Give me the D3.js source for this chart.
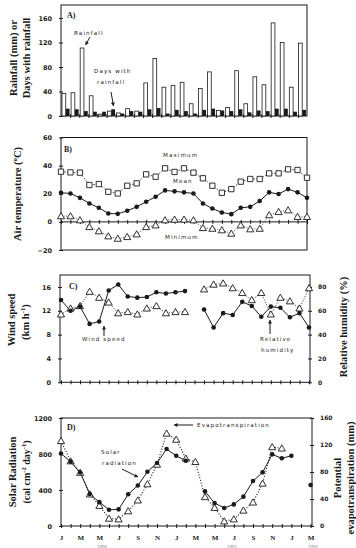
<!DOCTYPE html>
<html><head><meta charset="utf-8">
<script src="https://cdn.jsdelivr.net/npm/d3@7"></script>
<style>
html,body{margin:0;padding:0;background:#fff;}
svg{display:block;}
</style></head>
<body>
<svg id="c" width="356" height="548"></svg>
<script>
// ---------------- DATA ----------------
const months = ["J","F","M","A","M","J","J","A","S","O","N","D",
                "J","F","M","A","M","J","J","A","S","O","N","D",
                "J","F","M"];
const monthTickLabels = ["J","M","M","J","S","N","J","M","M","J","S","N","J","M"];
const yearLabels = ["1990","1991","1992"];

const rainfall = [37,38,111,33,3,8,5,12,8,54,94,47,50,55,20,45,72,9,14,74,20,64,51,152,120,47,119];
const rainDays = [12,11,8,7,7,11,4,8,7,11,13,4,10,8,4,10,12,9,8,11,6,9,8,12,12,7,10];

const tempMax  = [35.7,35.2,35.0,26.2,26.9,21.4,20.2,25.7,27.4,33.8,32.1,38.1,35.5,38.1,35.0,31.0,25.7,20.7,23.3,28.6,30.5,30.5,34.5,34.5,37.4,36.9,31.4];
const tempMean = [20.7,20.2,17.1,13.1,10.0,6.0,5.7,7.9,10.7,14.3,17.9,22.4,21.7,21.0,20.2,13.1,9.5,6.7,5.5,10.0,10.7,14.8,21.0,19.8,23.3,21.0,17.1];
const tempMin  = [4.1,4.1,1.2,-3.6,-6.6,-10.2,-11.9,-10.7,-8.8,-3.6,-2.4,1.2,1.7,1.7,1.2,-4.3,-4.8,-5.9,-8.3,-2.4,-5.2,-4.8,4.8,7.1,8.3,3.6,3.6];

const windSpeed = [13.8,12.0,12.7,9.8,10.2,15.4,16.4,14.4,14.2,14.3,15.1,14.9,15.1,15.3,null,12.2,9.2,11.6,11.3,13.5,12.8,11.0,12.7,12.5,10.9,11.6,9.2];
const relHumidity = [57,62,64,76,71,67,58,59,57,62,64,58,59,59,null,78,82,83,79,75,69,75,57,71,68,62,79];

const solarRad = [805,715,595,355,265,180,185,352,450,602,700,855,780,725,null,385,255,200,240,326,500,596,796,752,781,null,455];
const evapo = [126,96,79,47,30,11,10,22,38,62,91,137,128,100,95,43,27,7,10,23,35,63,117,115,null,null,null];

const rainTicks = [0,40,80,120,160];
const tempTicks = [-20,0,20,40,60];
const windTicks = [0,4,8,12,16];
const rhTicks = [0,20,40,60,80];
const solarTicks = [0,400,800,1200];
const etTicks = [0,40,80,120,160];

// ---------------- HELPERS ----------------
const svg = d3.select("#c");
const INK = "#1a1a1a";
const idx = d3.range(months.length);
const serif = "'Liberation Serif','Times New Roman',serif";
const sans = "'DejaVu Sans',Arial,sans-serif";

function frame(x0,x1,y0,y1){
  svg.append("rect").attr("x",x0).attr("y",y0).attr("width",x1-x0).attr("height",y1-y0)
    .attr("fill","none").attr("stroke",INK).attr("stroke-width",1);
}
function leftAxis(scale,x,ticks,fmt){
  const g = svg.append("g").attr("transform",`translate(${x},0)`)
    .call(d3.axisLeft(scale).tickValues(ticks).tickSize(3).tickPadding(6).tickFormat(fmt||d3.format("d")));
  g.select(".domain").remove();
  g.selectAll(".tick line").attr("x1",-2).attr("x2",2).attr("stroke",INK);
  g.selectAll("text").attr("font-family",sans).attr("font-size",6.5).attr("fill",INK).attr("font-weight","bold");
  return g;
}
function rightAxis(scale,x,ticks){
  const g = svg.append("g").attr("transform",`translate(${x},0)`)
    .call(d3.axisRight(scale).tickValues(ticks).tickSize(3).tickPadding(5).tickFormat(d3.format("d")));
  g.select(".domain").remove();
  g.selectAll(".tick line").attr("x1",-2).attr("x2",2).attr("stroke",INK);
  g.selectAll("text").attr("font-family",sans).attr("font-size",6).attr("fill",INK).attr("font-weight","bold");
  return g;
}
function monthTicks(xs,y,pos){
  const g = svg.append("g").attr("transform",`translate(0,${y})`)
    .call(d3.axisBottom(xs).tickValues(pos).tickSize(2).tickFormat(""));
  g.select(".domain").remove();
  g.selectAll(".tick line").attr("y1",-2).attr("y2",2).attr("stroke",INK);
  return g;
}
function spaced(x,y,txt,anchor){
  svg.append("text").attr("x",x).attr("y",y).attr("font-family",sans).attr("font-size",5.6)
    .attr("letter-spacing",1.1).attr("fill",INK).attr("text-anchor",anchor||"start").text(txt);
}
function label(x,y,txt){
  svg.append("text").attr("x",x).attr("y",y).attr("font-family",serif).attr("font-weight","bold")
    .attr("font-size",8).attr("fill",INK).text(txt);
}
function arrow(x1,y1,x2,y2){
  svg.append("line").attr("x1",x1).attr("y1",y1).attr("x2",x2).attr("y2",y2)
    .attr("stroke",INK).attr("stroke-width",1);
  const a = Math.atan2(y2-y1,x2-x1), L=3.5, W=2;
  const bx = x2 - L*Math.cos(a), by = y2 - L*Math.sin(a);
  const p = [[x2,y2],[bx + W*Math.sin(a), by - W*Math.cos(a)],[bx - W*Math.sin(a), by + W*Math.cos(a)]];
  svg.append("path").attr("d","M"+p.join("L")+"Z").attr("fill",INK);
}
function vtitle(x,yc,parts,size){
  const t = svg.append("text").attr("transform",`translate(${x},${yc}) rotate(-90)`)
    .attr("text-anchor","middle").attr("font-family",serif).attr("font-weight","bold")
    .attr("font-size",size||10.5).attr("fill",INK);
  parts.forEach(p=>{
    const ts = t.append("tspan").text(p.t);
    if(p.sup){ ts.attr("font-size",(size||10.5)*0.65).attr("dy",-4); }
    if(p.down){ ts.attr("dy",4); }
  });
}
const sq = d3.symbol().type(d3.symbolSquare).size(28);
const tri = d3.symbol().type(d3.symbolTriangle).size(22);
function pts(data,xs,ys,kind){
  const g = svg.append("g");
  const d = idx.filter(i=>data[i]!=null);
  if(kind==="circle"){
    g.selectAll("circle").data(d).join("circle").attr("cx",i=>xs(i)).attr("cy",i=>ys(data[i]))
      .attr("r",2.3).attr("fill",INK);
  } else {
    g.selectAll("path").data(d).join("path")
      .attr("transform",i=>`translate(${xs(i)},${ys(data[i])+(kind==="tri"?0.6:0)})`)
      .attr("d",kind==="tri"?tri():sq()).attr("fill","#fff").attr("stroke",INK).attr("stroke-width",0.9);
  }
}
function line(data,xs,ys,dash,w){
  const l = d3.line().defined(i=>data[i]!=null).x(i=>xs(i)).y(i=>ys(data[i]));
  svg.append("path").attr("d",l(idx)).attr("fill","none").attr("stroke",INK)
    .attr("stroke-width",w||1).attr("stroke-dasharray",dash||null);
}
const tickIdx = idx.filter(i=>i%2===0);

// ---------------- PANEL A ----------------
{
  const x0=61,x1=307,yTop=5,yBot=116;
  const y = d3.scaleLinear().domain([0,180]).range([yBot,yTop+0.75]);
  const xb = d3.scaleBand().domain(idx).range([x0,x1]).paddingInner(0.15).paddingOuter(0.1);
  const sub = d3.scaleBand().domain(["rain","days"]).range([0,xb.bandwidth()]).padding(0.02);
  frame(x0,x1,yTop,yBot);
  leftAxis(y,x0,rainTicks);
  monthTicks(d3.scaleLinear().domain([0,27]).range([x0,x1]),yBot,d3.range(1,27));
  svg.append("g").selectAll("rect").data(idx).join("rect")
    .attr("x",i=>xb(i)+sub("rain")).attr("width",sub.bandwidth())
    .attr("y",i=>y(rainfall[i])).attr("height",i=>yBot-y(rainfall[i]))
    .attr("fill","#fff").attr("stroke",INK).attr("stroke-width",0.8);
  svg.append("g").selectAll("rect").data(idx).join("rect")
    .attr("x",i=>xb(i)+sub("days")).attr("width",sub.bandwidth())
    .attr("y",i=>y(rainDays[i])).attr("height",i=>yBot-y(rainDays[i]))
    .attr("fill",INK);
  label(67,18,"A)");
  spaced(74,35,"Rainfall");
  arrow(90,37,85.5,45);
  spaced(94,73,"Days with");
  spaced(97,84,"rainfall");
  arrow(111,92,113.5,106);
  vtitle(17,58,[{t:"Rainfall (mm) or"}],10.5);
  vtitle(30,58,[{t:"Days with rainfall"}],10.5);
}

// ---------------- PANEL B ----------------
{
  const x0=61,x1=307,yTop=137.5,yBot=250;
  const y = d3.scaleLinear().domain([-20,60]).range([yBot,yTop]);
  const xs = d3.scalePoint().domain(idx).range([x0,x1]);
  frame(x0,x1,yTop,yBot);
  leftAxis(y,x0,tempTicks);
  svg.append("line").attr("x1",x0).attr("x2",x1).attr("y1",y(0)).attr("y2",y(0)).attr("stroke",INK).attr("stroke-width",1);
  monthTicks(xs,y(0),idx);
  line(tempMax,xs,y,"1.6,1.6",0.8);
  line(tempMean,xs,y,null,1);
  line(tempMin,xs,y,"1,1.6",0.8);
  pts(tempMax,xs,y,"sq");
  pts(tempMean,xs,y,"circle");
  pts(tempMin,xs,y,"tri");
  label(64,152,"B)");
  spaced(163,157,"Maximum");
  spaced(173,183,"Mean");
  spaced(165,239,"Minimum");
  vtitle(21,194,[{t:"Air temperature ("},{t:"o",sup:true},{t:"C)",down:true}],10.5);
}

// ---------------- PANEL C ----------------
{
  const x0=60,x1=310,yTop=275,yBot=382.3;
  const y = d3.scaleLinear().domain([0,18]).range([yBot,yTop]);
  const yr = d3.scaleLinear().domain([0,90]).range([yBot,yTop]);
  const xs = d3.scalePoint().domain(idx).range([61,309]);
  frame(x0,x1,yTop,yBot);
  leftAxis(y,x0,windTicks);
  rightAxis(yr,x1,rhTicks);
  monthTicks(xs,yBot,idx);
  line(relHumidity,xs,yr,"1,1.6",0.9);
  line(windSpeed,xs,y,null,1);
  pts(relHumidity,xs,yr,"tri");
  pts(windSpeed,xs,y,"circle");
  label(69,289,"C)");
  spaced(82,341,"Wind speed");
  arrow(104,336,104,326);
  spaced(260,341,"Relative");
  spaced(261,352,"humidity");
  arrow(270,334,270,320);
  vtitle(15,320,[{t:"Wind speed"}],10.5);
  vtitle(29,322,[{t:"(km h"},{t:"-1",sup:true},{t:")",down:true}],10.5);
  vtitle(347,327,[{t:"Relative humidity (%)"}],10.5);
}

// ---------------- PANEL D ----------------
{
  const x0=61,x1=312,yTop=418,yBot=526;
  const y = d3.scaleLinear().domain([0,1200]).range([yBot,yTop]);
  const yr = d3.scaleLinear().domain([0,160]).range([yBot,yTop]);
  const xs = d3.scalePoint().domain(idx).range([61,310.6]);
  frame(x0,x1,yTop,yBot);
  leftAxis(y,x0,solarTicks);
  rightAxis(yr,x1,etTicks);
  monthTicks(xs,yBot,idx);
  const g = svg.append("g").attr("transform",`translate(0,${yBot})`)
    .call(d3.axisBottom(xs).tickValues(tickIdx).tickSize(0).tickPadding(9)
      .tickFormat((d,k)=>monthTickLabels[k]));
  g.select(".domain").remove();
  g.selectAll("text").attr("font-family",serif).attr("font-weight","bold").attr("font-size",7).attr("fill",INK);
  svg.append("g").selectAll("text").data(yearLabels).join("text")
    .attr("x",(d,i)=>[102,232,313][i]).attr("y",547.5).attr("text-anchor","middle")
    .attr("font-family",serif).attr("font-size",5).attr("fill","#777").text(d=>d);
  line(evapo,xs,yr,"1,1.8",1.1);
  line(solarRad,xs,y,null,1);
  pts(evapo,xs,yr,"tri");
  pts(solarRad,xs,y,"circle");
  label(67,430,"D)");
  spaced(197,427,"Evapotranspiration");
  arrow(193,425,174,425);
  spaced(101,454,"Solar");
  spaced(102,465,"radiation");
  arrow(122,469,138,477);
  vtitle(16,472,[{t:"Solar Radiation"}],10.5);
  vtitle(30,472,[{t:"(cal cm"},{t:"-2",sup:true},{t:" day",down:true},{t:"-1",sup:true},{t:")",down:true}],10);
  vtitle(341,478,[{t:"Potential"}],10.5);
  vtitle(354,478,[{t:"evapotranspiration (mm)"}],10.5);
}
</script>
</body></html>
